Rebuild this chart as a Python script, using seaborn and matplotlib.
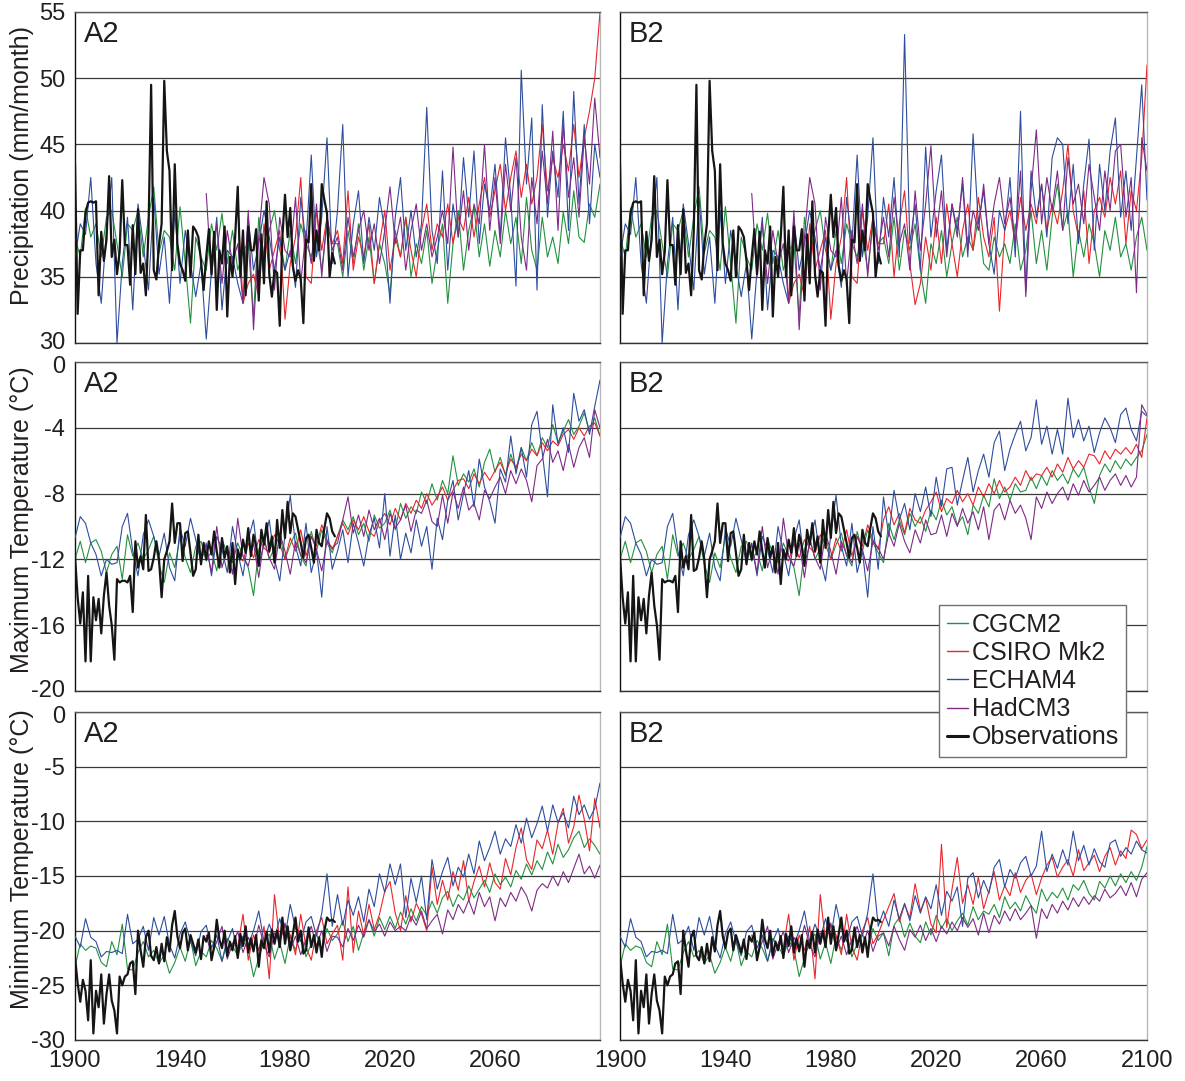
import numpy as np
import matplotlib
matplotlib.use("Agg")
import matplotlib.pyplot as plt
from matplotlib.lines import Line2D
from matplotlib.transforms import ScaledTranslation
import seaborn as sns

# modelos e cores
modelos = ["CGCM2", "CSIRO Mk2", "ECHAM4", "HadCM3"]
cores = {"CGCM2": "#23913f", "CSIRO Mk2": "#e8262b", "ECHAM4": "#2e4d9e", "HadCM3": "#7e2a86"}
cor_obs = "#151515"

# anos iniciais (series historicas a cada 2 anos, futuro 2000-2100 a cada 2 anos)
inicio_hist = {"CGCM2": 1900, "CSIRO Mk2": 1962, "ECHAM4": 1900, "HadCM3": 1950}
inicio_obs = 1900
inicio_fut = 2000

# ---------------- Precipitacao (mm/month) ----------------
pr_obs = [43.5, 32.2, 37.0, 37.0, 39.8, 40.6, 40.7, 40.6, 40.7, 33.6,
          38.4, 36.2, 37.8, 42.6, 36.5, 37.8, 35.2, 36.9, 42.3, 37.4,
          37.4, 34.4, 38.9, 35.2, 40.1, 35.3, 36.0, 33.6, 38.5, 49.5,
          35.5, 34.8, 37.4, 39.0, 49.8, 44.5, 43.0, 35.5, 43.5, 37.5,
          36.0, 35.5, 34.7, 38.5, 35.0, 38.8, 38.5, 38.0, 36.2, 34.0,
          36.5, 38.6, 35.2, 38.4, 32.5, 37.0, 36.0, 38.8, 32.0, 36.5,
          35.0, 38.0, 41.8, 35.0, 38.5, 33.6, 38.8, 37.0, 37.0, 38.6,
          33.2, 38.2, 34.5, 40.7, 35.2, 33.5, 35.5, 35.3, 31.3, 38.0,
          41.2, 38.0, 40.2, 35.8, 34.7, 35.5, 34.8, 31.5, 37.8, 37.6,
          42.0, 36.2, 38.5, 37.0, 42.0, 40.8, 39.8, 35.0, 36.8, 36.0]

pr_cgcm_hist = [38.0, 36.5, 40.2, 38.0, 39.0, 36.5, 39.5, 40.0, 37.5, 35.0,
                39.0, 38.5, 40.0, 36.5, 39.5, 41.8, 36.8, 38.5, 38.0, 35.5,
                40.3, 36.0, 31.5, 38.0, 36.5, 35.5, 39.0, 37.0, 39.8, 36.0,
                38.5, 35.5, 37.0, 37.5, 32.0, 39.5, 36.5, 38.5, 40.0, 37.0,
                35.5, 38.5, 36.0, 39.0, 37.5, 36.5, 38.0, 35.5, 39.0, 37.5]
pr_echam_hist = [36.5, 39.0, 38.2, 42.5, 36.0, 33.0, 38.5, 42.5, 30.0, 36.0,
                 39.5, 32.5, 40.5, 37.5, 34.0, 41.0, 35.2, 38.0, 33.0, 40.0,
                 34.5, 38.5, 36.0, 33.5, 36.0, 30.3, 35.5, 39.5, 32.5, 37.0,
                 36.5, 34.5, 33.0, 39.5, 35.5, 37.5, 40.0, 38.0, 35.5, 38.0,
                 35.5, 37.0, 34.2, 41.0, 37.5, 44.2, 36.5, 39.5, 45.5, 36.0]
pr_had_hist = [41.3, 35.0, 39.0, 34.5, 38.5, 36.0, 37.5, 33.0, 40.0, 31.0,
               38.0, 42.5, 40.5, 34.0, 39.5, 37.0, 36.5, 41.0, 34.5, 38.5,
               36.0, 40.5, 35.0, 39.5, 37.0]
pr_csiro_hist = [40.5, 33.0, 34.5, 35.2, 33.5, 39.0, 35.5, 37.0, 38.5, 31.8,
                 36.0, 38.0, 42.5, 35.0, 34.5, 40.0, 37.0, 39.5, 37.5]

pr_cgcm_a2 = [37.5, 35.0, 38.5, 36.0, 39.0, 35.5, 38.0, 34.5, 37.5, 36.0,
              33.7, 38.5, 36.5, 39.5, 35.0, 37.5, 36.0, 38.5, 34.5, 37.0,
              39.0, 33.0, 37.5, 40.0, 35.5, 38.5, 40.3, 36.5, 39.0, 35.8,
              38.5, 36.5, 40.0, 37.5, 39.5, 36.0, 41.0, 37.0, 35.5, 39.5,
              36.5, 38.0, 36.0, 39.9, 37.5, 41.5, 38.0, 37.6, 40.5, 39.5,
              42.0]
pr_csiro_a2 = [38.5, 36.0, 41.5, 35.5, 38.0, 36.5, 39.0, 34.5, 37.5, 40.0,
               35.5, 38.0, 36.5, 39.5, 37.0, 35.0, 38.5, 40.5, 37.0, 39.0,
               38.0, 40.5, 37.5, 39.5, 38.5, 41.0, 38.0, 40.5, 42.5, 39.5,
               41.5, 43.5, 40.0, 42.5, 44.5, 41.0, 43.5, 40.5, 42.5, 46.5,
               41.5, 44.0, 42.5, 45.0, 43.0, 46.5, 42.5, 45.5, 47.5, 50.0,
               55.0]
pr_echam_a2 = [40.0, 46.5, 35.0, 39.0, 41.5, 36.0, 39.5, 37.0, 41.0, 38.5,
               33.0, 39.5, 42.5, 37.0, 40.0, 36.5, 39.0, 47.8, 38.5, 36.0,
               43.0, 35.5, 40.5, 38.0, 44.0, 39.5, 44.5, 37.5, 42.0, 40.0,
               43.5, 38.0, 45.5, 41.0, 34.3, 50.6, 42.0, 47.0, 34.0, 48.0,
               39.5, 44.5, 41.0, 47.5, 38.5, 49.0, 40.5, 46.5, 39.0, 45.0,
               42.5]
pr_had_a2 = [38.0, 35.5, 39.5, 36.5, 38.5, 40.0, 37.0, 39.0, 36.0, 38.5,
             41.8, 37.5, 39.5, 35.5, 38.5, 40.5, 37.0, 39.0, 36.5, 38.0,
             40.0, 37.5, 44.8, 38.0, 41.5, 37.0, 40.5, 39.0, 45.0, 38.5,
             42.5, 37.5, 43.5, 40.0, 44.0, 38.0, 35.5, 42.5, 39.0, 44.5,
             40.5, 46.0, 38.5, 46.5, 41.0, 44.0, 39.5, 45.5, 42.0, 48.5,
             44.0]

pr_cgcm_b2 = [38.0, 36.0, 39.5, 35.5, 38.5, 37.0, 39.0, 35.5, 33.0, 37.5,
              36.0, 38.5, 35.0, 37.5, 39.5, 36.5, 38.0, 37.0, 39.5, 36.0,
              35.5, 38.0, 36.5, 37.5, 36.0, 39.0, 35.5, 37.0, 40.0, 36.0,
              38.5, 35.5, 39.5, 42.0, 38.5, 40.0, 35.0, 38.5, 36.5, 39.0,
              37.5, 35.0, 38.5, 37.0, 39.5, 36.5, 37.5, 35.5, 38.0, 39.5,
              37.0]
pr_csiro_b2 = [37.5, 40.5, 35.0, 39.0, 41.5, 36.0, 32.9, 34.5, 38.0, 35.5,
               39.5, 36.0, 40.5, 37.5, 35.0, 38.5, 40.5, 37.0, 41.0, 38.0,
               36.5, 39.5, 32.4, 38.5, 40.0, 37.5, 41.0, 38.5, 40.5, 39.0,
               42.0, 38.5, 40.5, 39.0, 41.5, 45.0, 40.0, 38.0, 41.5, 36.0,
               40.0, 41.0, 39.5, 42.5, 40.5, 43.0, 37.5, 41.5, 40.0, 44.0,
               51.0]
pr_echam_b2 = [41.0, 38.0, 42.5, 36.5, 53.3, 37.5, 40.5, 35.5, 44.8, 38.0,
               41.5, 44.2, 37.0, 40.5, 38.5, 42.0, 36.5, 45.8, 39.0, 41.5,
               37.5, 35.2, 40.0, 38.5, 42.5, 36.5, 47.5, 33.9, 43.0, 39.5,
               42.0, 38.0, 44.0, 45.5, 45.0, 39.0, 43.5, 37.5, 42.0, 45.4,
               37.0, 43.5, 40.0, 44.5, 47.0, 39.5, 43.0, 38.5, 44.0, 49.5,
               40.8]
pr_had_b2 = [39.5, 36.5, 41.0, 37.5, 39.0, 35.5, 41.5, 37.0, 40.5, 44.9,
             38.0, 41.5, 36.5, 40.5, 38.0, 42.5, 37.0, 40.0, 38.5, 42.0,
             37.5, 40.5, 42.5, 39.0, 41.0, 37.5, 43.0, 33.5, 41.5, 46.1,
             39.0, 42.5, 40.0, 43.0, 38.5, 44.0, 40.5, 42.0, 39.0, 43.5,
             41.0, 38.5, 43.0, 40.0, 44.5, 45.0, 39.5, 42.5, 33.8, 45.5,
             43.0]

# ---------------- Temperatura maxima (C) ----------------
tx_obs = [-11.8, -14.3, -15.9, -14.0, -18.2, -13.0, -18.2, -14.3, -15.7, -14.4,
          -16.5, -14.2, -12.8, -14.8, -16.0, -18.1, -13.2, -13.4, -13.3, -13.3,
          -13.4, -13.0, -15.2, -10.9, -12.5, -11.8, -12.6, -9.3, -12.7, -12.6,
          -11.9, -10.9, -12.0, -14.3, -12.0, -11.5, -10.9, -8.6, -11.0, -9.8,
          -9.8, -12.1, -10.4, -10.3, -11.6, -13.0, -12.6, -10.5, -12.3, -11.0,
          -12.0, -10.9, -11.7, -10.3, -11.5, -12.5, -10.7, -11.9, -11.2, -12.8,
          -11.0, -13.5, -11.4, -12.0, -10.8, -11.6, -10.1, -11.8, -10.5, -11.2,
          -12.4, -10.2, -11.1, -9.8, -11.5, -10.6, -12.2, -9.6, -11.3, -9.0,
          -10.7, -8.5, -10.4, -9.2, -9.4, -10.2, -11.0, -11.9, -10.7, -10.5,
          -11.3, -12.2, -10.2, -11.0, -11.2, -10.1, -9.2, -9.5, -10.3, -10.6]

tx_cgcm_hist = [-12.0, -10.9, -12.2, -11.0, -10.8, -11.5, -12.8, -11.7, -11.2, -13.2,
                -10.5, -11.8, -11.0, -12.0, -11.4, -10.6, -12.3, -13.4, -11.6, -12.5,
                -10.6, -11.9, -12.8, -11.2, -10.9, -12.1, -11.5, -12.7, -10.8, -11.6,
                -12.2, -11.0, -11.8, -12.5, -14.2, -11.4, -10.7, -12.0, -11.3, -10.5,
                -12.0, -11.1, -10.4, -11.8, -12.4, -10.3, -11.5, -10.2, -11.0, -11.6]
tx_echam_hist = [-10.7, -9.4, -9.8, -11.0, -11.7, -13.0, -12.0, -12.3, -12.2, -10.0,
                 -9.2, -11.5, -13.0, -10.5, -9.6, -10.6, -11.8, -10.4, -12.5, -13.3,
                 -10.1, -11.2, -9.5, -10.8, -12.2, -11.0, -13.0, -10.6, -11.4, -12.8,
                 -10.0, -11.6, -13.0, -10.8, -9.6, -12.3, -11.1, -9.6, -12.0, -13.3,
                 -10.5, -8.1, -11.2, -12.4, -9.8, -12.8, -11.5, -14.3, -10.0, -12.6]
tx_had_hist = [-11.2, -12.8, -10.0, -12.5, -11.3, -12.9, -9.5, -11.8, -12.4, -11.0,
               -13.1, -10.8, -11.9, -12.6, -10.4, -11.5, -12.9, -10.9, -11.7, -12.2,
               -10.6, -11.4, -12.7, -10.9, -11.3]
tx_csiro_hist = [-11.8, -12.1, -11.0, -11.9, -10.8, -11.3, -11.6, -10.5, -11.1, -12.0,
                 -10.7, -11.5, -10.2, -11.8, -10.6, -11.2, -9.9, -10.8, -11.4]

tx_cgcm_a2 = [-10.6, -9.6, -10.2, -9.4, -10.5, -9.8, -10.9, -9.3, -10.1, -9.8,
              -9.0, -10.2, -8.6, -9.5, -8.8, -9.2, -7.9, -8.6, -7.4, -8.4,
              -7.2, -8.0, -5.7, -7.5, -6.8, -7.3, -6.5, -7.6, -6.1, -5.3,
              -6.7, -5.8, -6.9, -5.6, -6.6, -5.2, -6.0, -4.9, -5.7, -4.6,
              -5.2, -3.8, -4.9, -4.2, -3.5, -4.4, -3.9, -3.1, -4.2, -3.4,
              -4.5]
tx_csiro_a2 = [-10.6, -9.8, -10.5, -9.6, -10.2, -9.4, -10.3, -10.6, -9.7, -9.2,
               -9.9, -8.9, -9.6, -8.6, -9.2, -8.4, -8.9, -8.0, -8.7, -8.2,
               -7.6, -8.4, -7.8, -7.2, -7.1, -7.7, -6.8, -7.4, -6.7, -7.2,
               -6.6, -6.1, -6.8, -5.9, -6.4, -5.6, -6.0, -5.3, -5.7, -4.9,
               -5.4, -4.8, -5.1, -4.4, -4.1, -4.7, -4.0, -4.5, -3.9, -3.7,
               -4.5]
tx_echam_a2 = [-11.5, -10.2, -12.2, -9.8, -11.0, -12.4, -10.5, -9.5, -11.3, -8.0,
               -11.8, -9.3, -12.0, -10.4, -11.6, -9.6, -11.2, -10.0, -12.6, -9.5,
               -10.8, -8.4, -7.2, -9.6, -8.0, -6.6, -8.8, -5.9, -7.6, -8.5,
               -9.8, -6.5, -7.3, -4.5, -6.8, -5.2, -7.0, -3.8, -3.0, -5.5,
               -8.2, -2.6, -5.0, -4.0, -5.5, -1.9, -3.6, -2.9, -4.4, -2.7,
               -1.1]
tx_had_a2 = [-11.0, -9.6, -8.2, -10.4, -9.3, -10.6, -9.0, -10.2, -9.5, -10.8,
             -9.2, -10.1, -9.6, -8.7, -10.3, -9.0, -9.2, -8.4, -9.7, -10.0,
             -8.1, -9.8, -7.9, -8.9, -7.6, -9.0, -8.6, -9.6, -7.8, -8.3,
             -7.6, -7.0, -8.0, -6.6, -7.4, -6.5, -7.2, -8.5, -6.3, -5.9,
             -4.7, -6.1, -5.4, -6.6, -5.0, -6.4, -5.2, -4.6, -5.8, -2.9,
             -4.0]

tx_cgcm_b2 = [-12.2, -9.8, -10.8, -9.6, -10.5, -9.2, -10.0, -9.4, -10.3, -9.0,
              -9.6, -8.4, -9.3, -8.8, -9.9, -9.4, -10.5, -8.7, -9.2, -8.1,
              -8.8, -7.1, -8.3, -7.6, -8.4, -7.4, -7.9, -7.8, -7.0, -7.7,
              -6.9, -7.5, -6.6, -7.2, -6.8, -7.4, -6.5, -7.0, -6.4, -7.6,
              -8.6, -6.9, -6.2, -6.7, -6.0, -6.5, -5.9, -6.3, -5.8, -5.4,
              -4.4]
tx_csiro_b2 = [-9.6, -8.8, -9.9, -9.2, -10.4, -8.9, -9.6, -9.8, -9.0, -8.5,
               -7.9, -9.1, -8.3, -8.6, -7.8, -8.5, -8.0, -8.7, -7.6, -8.2,
               -7.4, -8.0, -7.2, -7.9, -7.6, -7.0, -7.5, -6.6, -7.2, -6.8,
               -6.9, -6.4, -7.0, -6.2, -6.7, -5.8, -6.5, -6.0, -6.4, -5.6,
               -5.7, -6.2, -5.4, -5.9, -5.3, -5.6, -5.2, -5.6, -5.0, -5.8,
               -3.4]
tx_echam_b2 = [-8.2, -10.6, -7.8, -9.6, -8.6, -10.2, -8.0, -9.1, -7.6, -9.4,
               -7.0, -8.8, -6.5, -6.4, -8.7, -7.2, -5.8, -7.9, -6.6, -5.6,
               -7.0, -4.9, -4.2, -6.6, -5.3, -4.4, -3.6, -5.4, -4.6, -2.3,
               -5.0, -3.9, -5.6, -4.1, -5.6, -2.2, -4.6, -3.5, -4.8, -3.9,
               -5.5, -4.3, -3.4, -4.0, -4.9, -3.2, -2.8, -4.1, -4.8, -3.0,
               -3.3]
tx_had_b2 = [-12.0, -10.4, -11.2, -9.8, -10.9, -11.6, -10.2, -11.0, -9.6, -10.5,
             -10.4, -9.3, -10.6, -9.2, -10.0, -8.9, -9.8, -9.1, -10.2, -8.8,
             -10.8, -9.0, -8.6, -9.6, -8.4, -9.2, -8.7, -9.5, -10.8, -8.2,
             -8.9, -7.9, -8.6, -8.0, -7.6, -8.4, -7.4, -8.1, -7.2, -7.9,
             -7.5, -7.0, -7.8, -7.2, -6.8, -7.5, -6.9, -7.6, -7.0, -2.6,
             -3.2]

# ---------------- Temperatura minima (C) ----------------
tn_obs = [-22.4, -24.8, -26.5, -24.5, -25.5, -28.2, -22.7, -29.4, -25.5, -27.0,
          -24.0, -28.5, -25.8, -24.0, -26.4, -27.3, -29.4, -24.2, -25.0, -24.2,
          -24.0, -23.0, -22.8, -25.8, -20.0, -21.8, -23.3, -20.6, -20.0, -22.3,
          -22.7, -21.5, -23.0, -21.2, -22.8, -20.6, -21.9, -19.5, -18.2, -20.5,
          -21.6, -20.2, -19.8, -21.8, -20.4, -21.2, -22.0, -20.8, -22.6, -20.5,
          -21.0, -20.2, -22.7, -21.5, -19.0, -20.8, -21.6, -20.0, -22.3, -21.0,
          -21.8, -20.5, -22.5, -20.3, -21.4, -19.6, -22.0, -20.7, -21.9, -20.4,
          -23.3, -20.9, -21.6, -20.1, -22.0, -19.9, -21.2, -20.0, -21.5, -18.8,
          -21.2, -19.6, -21.8, -20.3, -18.8, -21.0, -20.0, -22.1, -21.8, -19.7,
          -21.5, -20.4, -22.0, -20.6, -22.4, -20.0, -18.8, -19.1, -19.0, -19.2]

tn_cgcm_hist = [-23.3, -21.2, -21.8, -21.4, -21.6, -22.9, -23.3, -21.0, -22.2, -19.4,
                -23.5, -23.6, -22.0, -21.0, -22.4, -21.8, -23.0, -22.2, -23.9, -22.9,
                -21.5, -22.8, -20.8, -23.2, -21.9, -22.4, -20.9, -21.6, -22.8, -20.7,
                -21.4, -22.3, -20.9, -21.7, -24.2, -22.5, -21.0, -20.3, -22.6, -21.1,
                -23.0, -20.5, -21.8, -20.1, -22.4, -21.2, -20.3, -21.7, -19.8, -20.9]
tn_echam_hist = [-20.5, -21.5, -18.9, -20.6, -21.0, -22.4, -21.9, -22.0, -21.8, -22.1,
                 -18.5, -21.2, -20.8, -19.6, -21.8, -18.8, -20.4, -18.7, -21.3, -22.5,
                 -20.3, -19.2, -21.0, -22.3, -20.1, -19.5, -21.6, -20.4, -22.8, -21.0,
                 -19.8, -22.1, -20.5, -21.3, -20.0, -18.2, -21.0, -19.4, -20.7, -18.9,
                 -20.6, -17.6, -19.8, -21.0, -19.2, -18.7, -20.5, -18.4, -14.8, -19.6]
tn_had_hist = [-20.4, -22.3, -21.0, -19.6, -22.6, -21.2, -20.1, -22.0, -20.6, -21.8,
               -19.5, -21.3, -22.4, -20.2, -21.0, -19.3, -21.8, -20.5, -22.2, -20.8,
               -19.6, -21.4, -20.0, -21.9, -20.5]
tn_csiro_hist = [-21.5, -18.5, -22.7, -20.4, -21.8, -19.6, -24.4, -16.7, -21.0, -19.5,
                 -20.4, -22.2, -18.5, -21.5, -22.7, -20.0, -18.8, -21.2, -20.3]

tn_cgcm_a2 = [-20.3, -19.1, -21.0, -19.6, -21.8, -20.2, -19.0, -20.5, -18.8, -19.9,
              -18.7, -19.8, -18.3, -19.4, -18.0, -19.1, -17.8, -18.6, -17.3, -18.4,
              -17.0, -16.4, -17.8, -16.7, -17.2, -15.9, -17.0, -16.2, -15.4, -16.5,
              -14.8, -15.8, -15.1, -16.0, -14.5, -15.3, -13.9, -14.9, -13.6, -14.4,
              -12.8, -13.9, -12.1, -13.3, -12.6, -11.5, -10.9, -12.4, -11.6, -12.2,
              -13.0]
tn_csiro_a2 = [-19.5, -22.7, -16.0, -22.0, -18.2, -20.4, -17.6, -19.9, -18.5, -16.4,
               -15.5, -18.4, -20.0, -16.8, -19.2, -17.5, -18.5, -20.0, -14.2, -17.6,
               -15.4, -17.2, -14.6, -16.3, -13.6, -17.3, -15.5, -14.1, -16.0, -13.8,
               -15.6, -16.2, -13.4, -14.9, -12.4, -10.6, -13.5, -14.4, -11.7, -12.5,
               -10.8, -13.0, -10.2, -8.8, -12.0, -10.5, -7.6, -9.8, -12.7, -7.9,
               -10.6]
tn_echam_a2 = [-16.7, -19.5, -17.2, -18.6, -16.9, -19.2, -16.2, -17.8, -14.8, -16.5,
               -13.9, -15.8, -13.9, -18.8, -15.2, -17.4, -15.0, -19.0, -13.5, -16.2,
               -14.6, -13.3, -15.9, -14.2, -15.1, -13.0, -14.8, -11.8, -13.6, -12.4,
               -10.9, -13.0, -11.6, -12.3, -10.3, -12.0, -9.7, -11.5, -10.2, -8.6,
               -10.9, -8.5, -10.1, -9.2, -10.6, -7.7, -9.4, -8.5, -9.8, -8.8,
               -6.5]
tn_had_a2 = [-20.6, -21.5, -19.8, -20.9, -19.5, -20.6, -19.0, -20.1, -19.4, -20.5,
             -19.2, -20.0, -19.6, -20.0, -18.7, -19.5, -18.2, -19.8, -19.1, -18.5,
             -20.3, -18.1, -19.0, -17.6, -18.4, -17.2, -18.5, -16.5, -17.8, -16.9,
             -19.1, -17.0, -17.8, -16.5, -17.3, -16.0, -16.8, -18.2, -16.3, -15.7,
             -16.1, -15.0, -15.9, -14.6, -15.6, -14.3, -13.0, -14.8, -14.1, -15.2,
             -14.0]

tn_cgcm_b2 = [-20.2, -22.3, -19.5, -18.8, -20.6, -19.3, -20.5, -21.1, -19.2, -20.4,
              -18.6, -19.8, -18.9, -20.0, -19.1, -18.4, -19.5, -17.8, -19.0, -18.2,
              -18.5, -17.6, -18.8, -16.9, -18.0, -17.4, -18.2, -16.8, -17.7, -18.4,
              -16.2, -17.3, -16.5, -17.0, -16.1, -17.2, -15.8, -16.3, -15.4, -16.6,
              -17.2, -15.5, -16.1, -15.0, -15.9, -14.8, -15.6, -14.6, -15.4, -14.2,
              -12.3]
tn_csiro_b2 = [-19.0, -17.8, -16.6, -19.2, -17.6, -18.8, -15.7, -18.2, -17.0, -19.4,
               -20.2, -12.1, -19.7, -16.2, -13.3, -17.5, -15.8, -17.6, -15.1, -18.0,
               -16.4, -14.6, -17.2, -15.9, -16.8, -14.7, -16.5, -15.4, -14.8, -16.7,
               -15.2, -14.0, -13.3, -15.1, -14.2, -13.5, -15.0, -12.6, -14.5, -13.8,
               -13.1, -14.6, -13.2, -12.4, -14.0, -12.7, -13.4, -10.8, -11.2, -12.5,
               -11.7]
tn_echam_b2 = [-18.2, -19.6, -17.2, -18.9, -17.5, -19.1, -16.8, -18.4, -16.9, -18.0,
               -15.8, -18.6, -16.4, -17.3, -16.0, -19.6, -15.2, -14.7, -17.0, -15.4,
               -16.6, -14.2, -13.5, -16.0, -14.4, -15.2, -13.8, -13.2, -15.0, -14.1,
               -10.9, -14.6, -13.0, -14.3, -12.6, -14.0, -10.9, -13.6, -12.2, -14.0,
               -12.5, -13.7, -14.2, -12.0, -11.7, -13.2, -12.4, -13.0, -11.8, -12.6,
               -12.9]
tn_had_b2 = [-20.2, -21.4, -19.6, -20.8, -21.8, -19.9, -20.6, -19.5, -20.9, -19.8,
             -21.0, -19.6, -20.3, -19.2, -20.0, -18.8, -19.7, -18.9, -20.4, -18.4,
             -20.2, -18.6, -19.4, -18.2, -19.1, -18.0, -19.0, -18.4, -17.7, -20.7,
             -18.0, -18.9, -17.6, -18.4, -17.3, -18.1, -17.0, -17.8, -16.9, -17.6,
             -16.8, -17.3, -16.2, -17.0, -16.6, -15.9, -16.8, -15.6, -16.9, -15.3,
             -14.7]

# agrupando as listas por variavel
series = {
    "pr": {"obs": pr_obs,
           "hist": {"CGCM2": pr_cgcm_hist, "CSIRO Mk2": pr_csiro_hist, "ECHAM4": pr_echam_hist, "HadCM3": pr_had_hist},
           "A2": {"CGCM2": pr_cgcm_a2, "CSIRO Mk2": pr_csiro_a2, "ECHAM4": pr_echam_a2, "HadCM3": pr_had_a2},
           "B2": {"CGCM2": pr_cgcm_b2, "CSIRO Mk2": pr_csiro_b2, "ECHAM4": pr_echam_b2, "HadCM3": pr_had_b2}},
    "tx": {"obs": tx_obs,
           "hist": {"CGCM2": tx_cgcm_hist, "CSIRO Mk2": tx_csiro_hist, "ECHAM4": tx_echam_hist, "HadCM3": tx_had_hist},
           "A2": {"CGCM2": tx_cgcm_a2, "CSIRO Mk2": tx_csiro_a2, "ECHAM4": tx_echam_a2, "HadCM3": tx_had_a2},
           "B2": {"CGCM2": tx_cgcm_b2, "CSIRO Mk2": tx_csiro_b2, "ECHAM4": tx_echam_b2, "HadCM3": tx_had_b2}},
    "tn": {"obs": tn_obs,
           "hist": {"CGCM2": tn_cgcm_hist, "CSIRO Mk2": tn_csiro_hist, "ECHAM4": tn_echam_hist, "HadCM3": tn_had_hist},
           "A2": {"CGCM2": tn_cgcm_a2, "CSIRO Mk2": tn_csiro_a2, "ECHAM4": tn_echam_a2, "HadCM3": tn_had_a2},
           "B2": {"CGCM2": tn_cgcm_b2, "CSIRO Mk2": tn_csiro_b2, "ECHAM4": tn_echam_b2, "HadCM3": tn_had_b2}},
}

# configuracao das linhas do painel
linhas = [
    {"var": "pr", "ylim": (30, 55), "maior": 5, "menor": 5, "ylabel": "Precipitation (mm/month)", "ly": 0.535},
    {"var": "tx", "ylim": (-20, 0), "maior": 4, "menor": 2, "ylabel": "Maximum Temperature (°C)", "ly": 0.52},
    {"var": "tn", "ylim": (-30, 0), "maior": 5, "menor": 5, "ylabel": "Minimum Temperature (°C)", "ly": 0.55},
]
cenarios = ["A2", "B2"]
anos_rotulo = [1900, 1940, 1980, 2020, 2060, 2100]

sns.set_style("white")
plt.rcParams["font.family"] = ["Liberation Sans", "DejaVu Sans"]
plt.rcParams["axes.unicode_minus"] = False
cor_texto = "#231f20"

W, H = 1185, 1081
fig = plt.figure(figsize=(W / 100, H / 100), dpi=100)
col_x = [75, 620]
col_w = [525, 527]
lin_y = [(12, 343), (362, 691), (712, 1040)]

for r, cfg in enumerate(linhas):
    dados = series[cfg["var"]]
    lo, hi = cfg["ylim"]
    for c, cen in enumerate(cenarios):
        y0, y1 = lin_y[r]
        ax = fig.add_axes([col_x[c] / W, 1 - y1 / H, col_w[c] / W, (y1 - y0) / H])

        for m in modelos:
            hist = dados["hist"][m]
            fut = dados[cen][m]
            anos = np.concatenate([inicio_hist[m] + 2 * np.arange(len(hist)),
                                   inicio_fut + 2 * np.arange(len(fut))])
            vals = np.array(hist + fut)
            sns.lineplot(x=anos, y=vals, ax=ax, color=cores[m], lw=0.8,
                         estimator=None, legend=False, zorder=3)
        obs = dados["obs"]
        sns.lineplot(x=inicio_obs + np.arange(len(obs)), y=np.array(obs), ax=ax,
                     color=cor_obs, lw=1.6, estimator=None, legend=False, zorder=4)

        ax.set_xlim(1900, 2100)
        ax.set_ylim(lo, hi)
        ax.set_xticks(anos_rotulo)
        ax.set_xticks(np.arange(1900, 2101, 20), minor=True)
        ax.set_yticks(np.arange(lo, hi + 0.1, cfg["maior"]))
        ax.set_yticks(np.arange(lo, hi + 0.1, cfg["menor"]), minor=True)
        ax.grid(axis="y", which="major", color="#3a3a3a", lw=0.9)
        ax.grid(axis="x", visible=False)
        ax.set_axisbelow(True)
        ax.tick_params(which="both", direction="out", length=6, width=1,
                       color="#333333", labelsize=17, labelcolor=cor_texto, pad=1)
        ax.set_xlabel("")
        ax.set_ylabel("")

        ax.spines["left"].set_color("#111111")
        ax.spines["bottom"].set_color("#333333")
        ax.spines["top"].set_color("#5a5a5a")
        ax.spines["right"].set_color("#b8b8b8")
        for s in ax.spines.values():
            s.set_linewidth(1.0)

        if c == 1:
            ax.tick_params(labelleft=False)
        else:
            ax.set_ylabel(cfg["ylabel"], fontsize=18, color=cor_texto)
            ax.yaxis.set_label_coords(-0.079, cfg["ly"])
            # afastar um pouco os rotulos das bordas entre paineis
            rot = ax.get_yticklabels()
            if r < 2:
                rot[0].set_transform(rot[0].get_transform() + ScaledTranslation(0, 2 / 72, fig.dpi_scale_trans))
            if r > 0:
                rot[-1].set_transform(rot[-1].get_transform() + ScaledTranslation(0, -2 / 72, fig.dpi_scale_trans))
        if r < 2:
            ax.tick_params(labelbottom=False)
        elif c == 0:
            ax.set_xticklabels(["1900", "1940", "1980", "2020", "2060", ""])

        ax.text(0.017, 0.975, cen, transform=ax.transAxes, fontsize=21,
                color=cor_texto, ha="left", va="top")

# legenda (por cima dos paineis do meio e de baixo)
handles = [Line2D([], [], color=cores[m], lw=1.0) for m in modelos]
handles.append(Line2D([], [], color=cor_obs, lw=2.2))
leg = fig.legend(handles, modelos + ["Observations"], loc="upper left",
                 bbox_to_anchor=(939 / W, 1 - 605 / H), frameon=True, fancybox=False,
                 edgecolor="#707070", facecolor="white", framealpha=1, fontsize=18,
                 handlelength=0.85, handletextpad=0.15, labelspacing=0.17,
                 borderpad=0.3, borderaxespad=0)
leg.get_frame().set_linewidth(1.0)
for t in leg.get_texts():
    t.set_color(cor_texto)

fig.savefig("out.png", dpi=100)
